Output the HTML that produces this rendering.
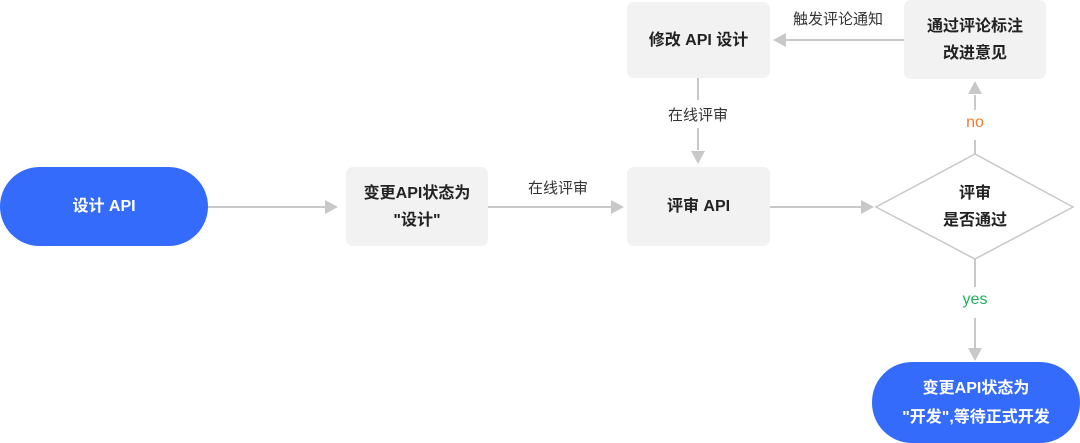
<!DOCTYPE html>
<html><head><meta charset="utf-8"><style>
body{margin:0;width:1080px;height:443px;background:#fff;overflow:hidden;position:relative;font-family:"Liberation Sans","Noto Sans CJK SC",sans-serif}
.b{position:absolute;background:#f2f2f2;border-radius:7px;display:flex;align-items:center;justify-content:center;text-align:center;font-weight:bold;font-size:16px;color:#222;line-height:27px}
.p{position:absolute;background:#356bfb;border-radius:40px;display:flex;align-items:center;justify-content:center;text-align:center;font-weight:bold;font-size:16px;color:#fff;line-height:29px}
.t{position:absolute;font-size:15px;color:#333;transform:translateX(-50%);white-space:nowrap}
</style></head><body>
<svg width="1080" height="443" style="position:absolute;left:0;top:0">
<g stroke="#c8c8c8" stroke-width="2" fill="none">
<line x1="208" y1="207" x2="326" y2="207"/>
<line x1="488" y1="207" x2="612" y2="207"/>
<line x1="770" y1="207" x2="862" y2="207"/>
<line x1="698" y1="78" x2="698" y2="100"/><line x1="698" y1="128" x2="698" y2="150"/>
<line x1="975" y1="154" x2="975" y2="140"/><line x1="975" y1="110" x2="975" y2="95"/>
<line x1="975" y1="259" x2="975" y2="287"/><line x1="975" y1="318" x2="975" y2="348"/>
<line x1="904" y1="40" x2="786" y2="40"/>
<polygon points="876,207 975,154 1073,207 975,259" stroke-width="1.5"/>
</g>
<g fill="#c8c8c8">
<polygon points="338,207 325,200 325,214"/>
<polygon points="624,207 611,200 611,214"/>
<polygon points="874,207 861,200 861,214"/>
<polygon points="698,164 691,151 705,151"/>
<polygon points="975,81 968,94 982,94"/>
<polygon points="975,361 968,348 982,348"/>
<polygon points="773,40 786,33 786,47"/>
</g>
</svg>
<div class="p" style="left:0;top:167px;width:208px;height:79px">设计 API</div>
<div class="b" style="left:346px;top:167px;width:142px;height:79px">变更API状态为<br>"设计"</div>
<div class="b" style="left:627px;top:167px;width:143px;height:79px">评审 API</div>
<div class="b" style="left:627px;top:2px;width:143px;height:76px">修改 API 设计</div>
<div class="b" style="left:904px;top:0;width:142px;height:79px">通过评论标注<br>改进意见</div>
<div class="b" style="left:915px;top:182px;width:120px;height:50px;background:none">评审<br>是否通过</div>
<div class="p" style="left:872px;top:362px;width:208px;height:81px">变更API状态为<br>"开发",等待正式开发</div>
<div class="t" style="left:558px;top:177px">在线评审</div>
<div class="t" style="left:698px;top:104px">在线评审</div>
<div class="t" style="left:838px;top:8px">触发评论通知</div>
<div class="t" style="left:975px;top:114px;color:#f47a2a;font-size:16px">no</div>
<div class="t" style="left:975px;top:291px;color:#1fb35a;font-size:16px">yes</div>
</body></html>
